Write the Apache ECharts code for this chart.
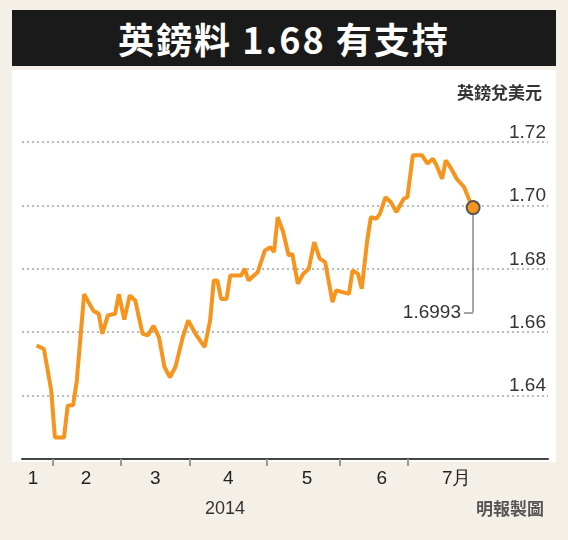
<!DOCTYPE html>
<html>
<head>
<meta charset="utf-8">
<script src="https://cdn.jsdelivr.net/npm/echarts@6/dist/echarts.min.js"></script>
<style>
body{margin:0;background:#fff;}
#wrap{position:relative;width:568px;height:540px;background:#f4f0e8;}
#title{position:absolute;left:12px;top:10px;width:544px;height:56px;background:#1a1a1a;color:#fff;
 font:bold 36px "Noto Sans CJK TC";text-align:center;line-height:56px;letter-spacing:2px;}
#container{position:absolute;left:0;top:70px;width:568px;height:470px;}
</style>
</head>
<body>
<div id="wrap"><div id="title">英鎊料 1.68 有支持</div><div id="container"></div></div>
<script>
// trading-day position, GBP/USD rate
var days = [10.5,12.5,14.5,15.5,18,19,20.5,21.5,23.5,26,27.5,28.5,30,32,33,34.5,36,37.5,39.5,41,42.5,44,45.5,47,48.5,50.5,52,54,56.5,58,59,60,61,62.5,63.5,66.5,67.5,68.5,71,73,74.5,75.5,76.5,78,79.5,80.5,82,83.5,85,86.5,88,89.5,91.5,92.5,96,97,98.5,99.5,101,102,103.5,104.5,106,107.5,109,111,112,113.5,116,117.5,119,120,121.5,122.5,124,125.5,127.5,129,130];
var rates = [1.6558,1.6547,1.6416,1.6268,1.6268,1.6368,1.637,1.6447,1.672,1.6668,1.6658,1.6595,1.6653,1.6658,1.672,1.664,1.6716,1.670,1.6595,1.659,1.662,1.6584,1.649,1.6458,1.649,1.6584,1.6637,1.6595,1.6553,1.6637,1.6763,1.6763,1.6705,1.6705,1.6779,1.6779,1.68,1.6763,1.6789,1.6858,1.6868,1.6853,1.6963,1.6916,1.6842,1.6847,1.6753,1.6784,1.68,1.6884,1.6832,1.6821,1.6695,1.6732,1.6721,1.6795,1.6784,1.6737,1.6889,1.6963,1.6958,1.6974,1.7026,1.701,1.6979,1.7021,1.7026,1.7158,1.7158,1.7132,1.7147,1.7126,1.7084,1.7142,1.7116,1.7084,1.7058,1.7016,1.6993];
var monthTicks = [14.8,33.5,52.5,73.5,93.5,112];
var monthLabelPos = [9.5,24,43,63,84.5,105,125.5];
var monthLabels = ['1','2','3','4','5','6','7月'];
var yTicks = [1.64,1.66,1.68,1.70,1.72];

var dom = document.getElementById('container');
var myChart = echarts.init(dom);
var lastX = days[days.length - 1], lastY = rates[rates.length - 1];
var labelMap = {};
monthLabelPos.forEach(function(p, i) { labelMap[p] = monthLabels[i]; });

var option = {
	animation: false,
	graphic: [
		{type: 'rect', shape: {x: 12, y: 0, width: 544, height: 392}, style: {fill: '#fff'}, z: -10},
		{type: 'text', right: 26, top: 14, style: {text: '英鎊兌美元', font: 'bold 17px "Noto Sans CJK TC"', fill: '#333'}},
		{type: 'text', left: 205, top: 430, style: {text: '2014', font: '18px "Liberation Sans"', fill: '#333'}},
		{type: 'text', right: 24, top: 430, style: {text: '明報製圖', font: 'bold 17px "Noto Sans CJK TC"', fill: '#555'}}
	],
	grid: {left: 22, right: 20, top: 72, bottom: 81},
	xAxis: [{
		type: 'value', min: 6.5, max: 150.5,
		axisLine: {lineStyle: {color: '#444', width: 2}},
		axisTick: {show: false}, splitLine: {show: false},
		axisLabel: {show: false}
	}, {
		type: 'value', min: 6.5, max: 150.5, position: 'bottom',
		axisLine: {show: false}, splitLine: {show: false}, axisTick: {show: false},
		axisLabel: {
			customValues: monthLabelPos, margin: 10,
			formatter: function(v) { return labelMap[v] || ''; },
			color: '#222', fontSize: 19, fontFamily: 'Liberation Sans'
		}
	}, {
		type: 'value', min: 6.5, max: 150.5, position: 'bottom',
		axisLine: {show: false}, splitLine: {show: false}, axisLabel: {show: false},
		axisTick: {show: true, customValues: monthTicks, inside: false, length: 7, lineStyle: {color: '#999', width: 2}}
	}],
	yAxis: {
		type: 'value', min: 1.62, max: 1.72, interval: 0.02, position: 'right',
		axisLine: {show: false}, axisTick: {show: false},
		splitLine: {lineStyle: {color: '#bbb', type: [2, 3], width: 2}},
		axisLabel: {
			inside: true, verticalAlign: 'bottom', margin: 2,
			color: '#333', fontSize: 19, fontFamily: 'Liberation Sans',
			formatter: function(v) { return yTicks.some(function(t){return Math.abs(t - v) < 1e-6;}) ? v.toFixed(2) : ''; }
		}
	},
	series: [{
		type: 'line',
		data: days.map(function(d, i) { return [d, rates[i]]; }),
		showSymbol: false,
		lineStyle: {color: '#f7941d', width: 4},
		markPoint: {
			symbol: 'circle', symbolSize: 13,
			itemStyle: {color: '#f7941d', borderColor: '#555', borderWidth: 2},
			label: {show: false},
			data: [{coord: [lastX, lastY]}]
		},
		markLine: {
			silent: true, symbol: 'none',
			lineStyle: {color: '#888', width: 1.5, type: 'solid'},
			label: {show: false},
			data: [
				[{coord: [lastX, lastY - 0.0012]}, {coord: [lastX, 1.6662]}],
				[{coord: [lastX, 1.6662]}, {coord: [lastX - 2.5, 1.6662],
					label: {show: true, position: 'end', formatter: '1.6993', color: '#333', fontSize: 19, fontFamily: 'Liberation Sans', distance: 3}}]
			]
		}
	}]
};
myChart.setOption(option, true);
</script>
</body>
</html>
